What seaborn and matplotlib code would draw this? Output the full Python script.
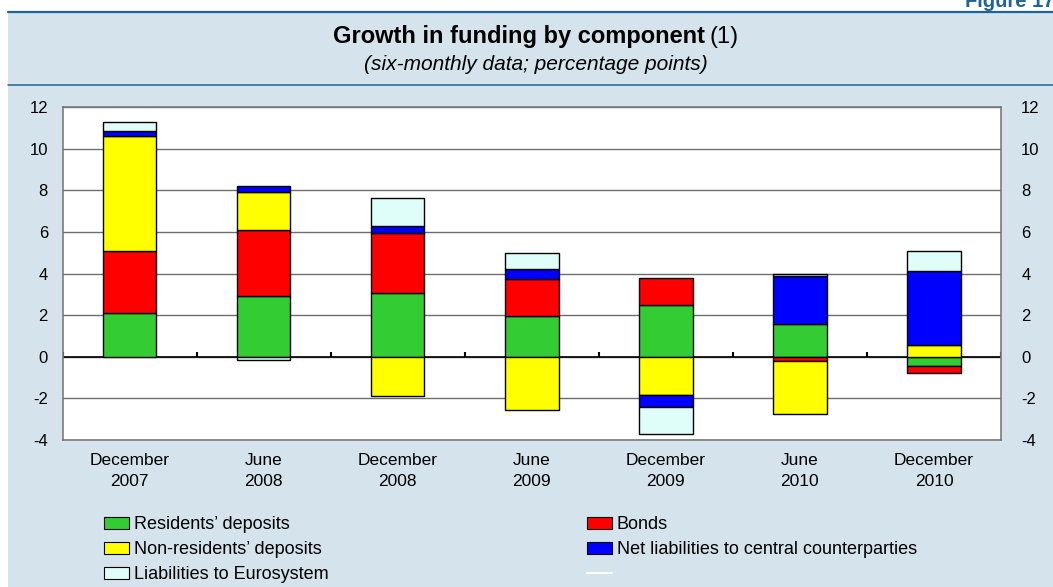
import numpy as np
import pandas as pd
import matplotlib
matplotlib.use("Agg")
import matplotlib.pyplot as plt
import seaborn as sns
from matplotlib.patches import Patch, Rectangle
from matplotlib.lines import Line2D

# =============================
# Data (percentage points)
# =============================
periods = ["December\n2007", "June\n2008", "December\n2008", "June\n2009",
           "December\n2009", "June\n2010", "December\n2010"]

residents = [2.1, 2.9, 3.05, 1.95, 2.5, 1.55, -0.43]
bonds = [3.0, 3.2, 2.9, 1.8, 1.3, -0.22, -0.34]
non_residents = [5.5, 1.8, -1.9, -2.55, -1.85, -2.55, 0.55]
central_cp = [0.25, 0.3, 0.35, 0.45, -0.55, 2.35, 3.55]
eurosystem = [0.45, -0.15, 1.35, 0.8, -1.3, 0.08, 1.0]

components = ["Residents’ deposits", "Bonds", "Non-residents’ deposits",
              "Net liabilities to central counterparties", "Liabilities to Eurosystem"]
series = [residents, bonds, non_residents, central_cp, eurosystem]
colors = ["#33CC33", "#FF0000", "#FFFF00", "#0000FF", "#E0FEF9"]

y_ticks = [-4, -2, 0, 2, 4, 6, 8, 10, 12]

# =============================
# Style
# =============================
sns.set_style("white")
plt.rcParams["font.family"] = ["Liberation Sans", "DejaVu Sans"]
plt.rcParams["text.color"] = "black"
plt.rcParams["xtick.color"] = "black"
plt.rcParams["ytick.color"] = "black"

W, H = 1053, 587
fig = plt.figure(figsize=(W / 100, H / 100), dpi=100, facecolor="white")

def fx(px):
    return px / W

def fy(px):
    return 1 - px / H

panel_blue = "#D4E3EC"
dark_blue = "#1F6496"

# fond bleu clair + filets
fig.patches.append(Rectangle((fx(8), 0), 1 - fx(8), fy(11.5), transform=fig.transFigure,
                             facecolor=panel_blue, edgecolor="none", zorder=-10))
fig.lines.append(Line2D([fx(8), 1], [fy(11.5), fy(11.5)], transform=fig.transFigure,
                        color=dark_blue, lw=1.6, zorder=-5))
fig.lines.append(Line2D([fx(8), 1], [fy(85), fy(85)], transform=fig.transFigure,
                        color=dark_blue, lw=1.1, zorder=-5))
fig.text(fx(965), fy(7), "Figure 17.", color=dark_blue, fontsize=14.5,
         fontweight="bold", ha="left", va="baseline")

# =============================
# Bars
# =============================
ax = fig.add_axes([fx(62.5), fy(440), fx(1001) - fx(62.5), fy(107) - fy(440)])
ax.set_facecolor("white")

df = pd.DataFrame({"period": periods})
pos_base = np.zeros(len(periods))
neg_base = np.zeros(len(periods))
for name, vals, col in zip(components, series, colors):
    vals = np.array(vals, dtype=float)
    bottom = np.where(vals >= 0, pos_base, neg_base)   # empilement séparé +/-
    df["value"] = vals
    sns.barplot(data=df, x="period", y="value", order=periods, color=col,
                saturation=1, width=0.4, errorbar=None, bottom=bottom,
                edgecolor="black", linewidth=1.0, ax=ax, zorder=3)
    pos_base = pos_base + np.clip(vals, 0, None)
    neg_base = neg_base + np.clip(vals, None, 0)

# =============================
# Axes
# =============================
ax.set_xlim(-0.5, len(periods) - 0.5)
ax.set_ylim(y_ticks[0], y_ticks[-1])
ax.set_yticks(y_ticks)
ax.set_yticklabels([str(t) for t in y_ticks])
ax.yaxis.grid(True, color="#6E6E6E", lw=1.0, zorder=1)
ax.xaxis.grid(False)
ax.set_axisbelow(True)
ax.axhline(0, color="black", lw=1.2, zorder=2)
ax.vlines(np.arange(len(periods) + 1) - 0.5, 0, 0.22, color="black", lw=1.5, zorder=2)

ax.tick_params(axis="y", length=0, labelsize=12, pad=10.5,
               left=True, right=False, labelleft=True, labelright=False)
ax.tick_params(axis="x", length=0, labelsize=12.5, pad=9.5)
for lab in ax.get_xticklabels():
    lab.set_linespacing(1.5)
ax.set_xlabel("")
ax.set_ylabel("")

# axe de droite (mêmes valeurs)
sec = ax.secondary_yaxis("right")
sec.set_yticks(y_ticks)
sec.set_yticklabels([str(t) for t in y_ticks])
sec.tick_params(axis="y", length=0, labelsize=12, pad=14.5)
sec.spines["right"].set_visible(False)

for s in ax.spines.values():
    s.set_color("#7A7A7A")
    s.set_linewidth(1.2)

# =============================
# Titles
# =============================
renderer = fig.canvas.get_renderer()
t1 = fig.text(0, fy(37), "Growth in funding by component", fontsize=17,
              fontweight="bold", ha="left", va="center")
t2 = fig.text(0, fy(37), "(1)", fontsize=17, ha="left", va="center")
w1 = t1.get_window_extent(renderer).width
w2 = t2.get_window_extent(renderer).width
gap = 5
x0 = 536 - (w1 + gap + w2) / 2
t1.set_x(fx(x0))
t2.set_x(fx(x0 + w1 + gap))
fig.text(fx(536), fy(65), "(six-monthly data; percentage points)", fontsize=15,
         style="italic", ha="center", va="center")

# =============================
# Legend
# =============================
handles = [Patch(facecolor=c, edgecolor="black", lw=0.8) for c in colors]
leg_kw = dict(frameon=False, fontsize=13, handlelength=1.4, handleheight=0.65,
              handletextpad=0.25, labelspacing=0.44, borderpad=0, borderaxespad=0,
              loc="upper left")
fig.legend([handles[0], handles[2], handles[4]],
           [components[0], components[2], components[4]],
           bbox_to_anchor=(fx(104), fy(516)), **leg_kw)
blank = Line2D([], [], color="white", lw=1.5)
fig.legend([handles[1], handles[3], blank],
           [components[1], components[3], ""],
           bbox_to_anchor=(fx(587), fy(516)), **leg_kw)

fig.savefig("out.png", dpi=100, facecolor="white")
